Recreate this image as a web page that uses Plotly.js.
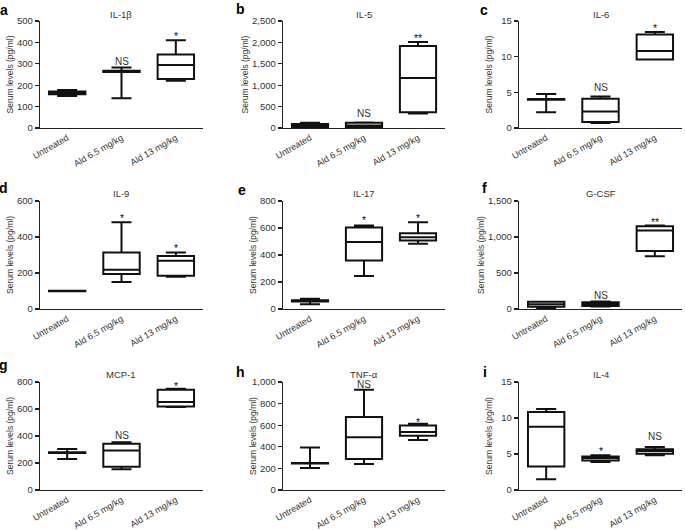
<!DOCTYPE html>
<html><head><meta charset="utf-8">
<script src="https://cdn.plot.ly/plotly-3.0.1.min.js"></script>
<style>html,body{margin:0;padding:0;background:#fff}#chart{width:685px;height:530px}</style>
</head><body><div id="chart"></div>
<script>
const categories = ['Untreated', 'Ald 6.5 mg/kg', 'Ald 13 mg/kg'];
const cytokines = ['IL-1β', 'IL-5', 'IL-6', 'IL-9', 'IL-17', 'G-CSF', 'MCP-1', 'TNF-α', 'IL-4'];
const panelLetters = ['a', 'b', 'c', 'd', 'e', 'f', 'g', 'h', 'i'];
const yMax = [500, 2500, 15, 600, 800, 1500, 800, 1000, 15];
const yStep = [100, 500, 5, 200, 200, 500, 200, 200, 5];

// one row per panel, one value per category
const lowerFence = [
  [150, 139, 221],
  [8, 5, 336],
  [2.2, 0.7, 9.6],
  [98, 150, 179],
  [35, 244, 484],
  [14, 35, 732],
  [230, 153, 614],
  [204, 241, 464],
  [1.5, 3.88, 4.81]];
const q1 = [
  [158, 262, 229],
  [15, 10, 370],
  [3.95, 0.85, 9.62],
  [99, 194, 185],
  [55, 359, 508],
  [32, 40, 805],
  [274, 173, 619],
  [245, 288, 502],
  [3.27, 4.11, 5.05]];
const median = [
  [163, 265, 294],
  [55, 60, 1170],
  [4.0, 2.3, 10.8],
  [100, 218, 268],
  [60, 496, 531],
  [65, 70, 1090],
  [277, 292, 651],
  [248, 489, 536],
  [8.78, 4.44, 5.42]];
const q3 = [
  [170, 268, 344],
  [95, 125, 1915],
  [4.05, 4.1, 13.1],
  [101, 314, 295],
  [65, 604, 562],
  [100, 95, 1150],
  [280, 342, 743],
  [251, 675, 598],
  [10.84, 4.67, 5.65]];
const upperFence = [
  [177, 283, 410],
  [125, 130, 2010],
  [4.75, 4.4, 13.45],
  [102, 482, 314],
  [75, 619, 643],
  [100, 105, 1160],
  [304, 354, 750],
  [393, 929, 613],
  [11.26, 4.81, 5.98]];
const sigLabels = [
  ['', 'NS', '*'],
  ['', 'NS', '**'],
  ['', 'NS', '*'],
  ['', '*', '*'],
  ['', '*', '*'],
  ['', 'NS', '**'],
  ['', 'NS', '*'],
  ['', 'NS', '*'],
  ['', '*', 'NS']];
const sigY = [
  [null, 313, 446],
  [null, 328, 2164],
  [null, 5.67, 14.5],
  [null, 522, 353],
  [null, 680, 697],
  [null, 187, 1257],
  [null, 403, 792],
  [null, 981, 656],
  [null, 5.9, 7.48]];

// layout geometry (pixels)
const W = 685, H = 530;
const colPx = [[40, 203], [283, 445], [519, 682]];
const rowPx = [[21, 128], [201, 309], [382, 490]];
const titlePx = [15, 193, 374];
const letterPos = [[4, 10], [240, 9], [484, 10], [4, 188], [242, 190], [484, 188], [4, 365], [240, 372], [485, 372]];

const FONT = 'Liberation Sans, Arial, Helvetica, sans-serif';
const traces = [];
const layout = {
  width: W, height: H,
  margin: {l: 0, r: 0, t: 0, b: 0},
  paper_bgcolor: '#fff', plot_bgcolor: '#fff',
  showlegend: false,
  boxgap: 0.33,
  boxgroupgap: 0,
  font: {family: FONT, color: '#333'},
  annotations: []
};

for (let p = 0; p < 9; p++) {
  const n = p + 1;
  const sx = n === 1 ? '' : String(n);
  const col = p % 3, row = Math.floor(p / 3);
  traces.push({
    type: 'box',
    x: categories,
    q1: q1[p], median: median[p], q3: q3[p],
    lowerfence: lowerFence[p], upperfence: upperFence[p],
    xaxis: 'x' + sx, yaxis: 'y' + sx,
    line: {color: '#111', width: 2},
    fillcolor: '#fff',
    whiskerwidth: 0.55,
    boxpoints: false,
    hoverinfo: 'skip'
  });
  layout['xaxis' + sx] = {
    domain: [colPx[col][0] / W, colPx[col][1] / W],
    anchor: 'y' + sx,
    type: 'category',
    range: [-0.5, 2.5],
    showline: true, linecolor: '#222', linewidth: 1.3,
    showgrid: false, zeroline: false,
    ticks: '',
    tickangle: -30,
    tickfont: {size: 9, color: '#333', family: FONT},
    fixedrange: true
  };
  layout['yaxis' + sx] = {
    domain: [1 - rowPx[row][1] / H, 1 - rowPx[row][0] / H],
    anchor: 'x' + sx,
    range: [0, yMax[p]],
    tick0: 0, dtick: yStep[p],
    separatethousands: true,
    showline: true, linecolor: '#222', linewidth: 1.3,
    showgrid: false, zeroline: false,
    ticks: 'outside', ticklen: 4, tickwidth: 1.3, tickcolor: '#222',
    tickfont: {size: 9.5, color: '#333', family: FONT},
    title: {text: 'Serum levels (pg/ml)', font: {size: 8.5, color: '#333', family: FONT}},
    fixedrange: true
  };
  // subplot title
  layout.annotations.push({
    xref: 'paper', yref: 'paper',
    x: (colPx[col][0] + colPx[col][1]) / 2 / W,
    y: 1 - titlePx[row] / H,
    text: cytokines[p], showarrow: false,
    xanchor: 'center', yanchor: 'middle',
    font: {size: 9.5, color: '#333', family: FONT}
  });
  // panel letter
  layout.annotations.push({
    xref: 'paper', yref: 'paper',
    x: letterPos[p][0] / W, y: 1 - letterPos[p][1] / H,
    text: '<b>' + panelLetters[p] + '</b>', showarrow: false,
    xanchor: 'center', yanchor: 'middle',
    font: {size: 14, color: '#000', family: FONT}
  });
  // significance labels
  for (let c = 0; c < 3; c++) {
    if (!sigLabels[p][c]) continue;
    const star = sigLabels[p][c].indexOf('*') >= 0;
    layout.annotations.push({
      xref: 'x' + sx, yref: 'y' + sx,
      x: categories[c], y: sigY[p][c],
      text: sigLabels[p][c], showarrow: false,
      xanchor: 'center', yanchor: 'middle',
      yshift: star ? -3 : 0,
      font: {size: star ? 10.5 : 10, color: star ? '#111' : '#333', family: FONT}
    });
  }
}

Plotly.newPlot('chart', traces, layout, {displayModeBar: false, staticPlot: true});
</script>
</body></html>
